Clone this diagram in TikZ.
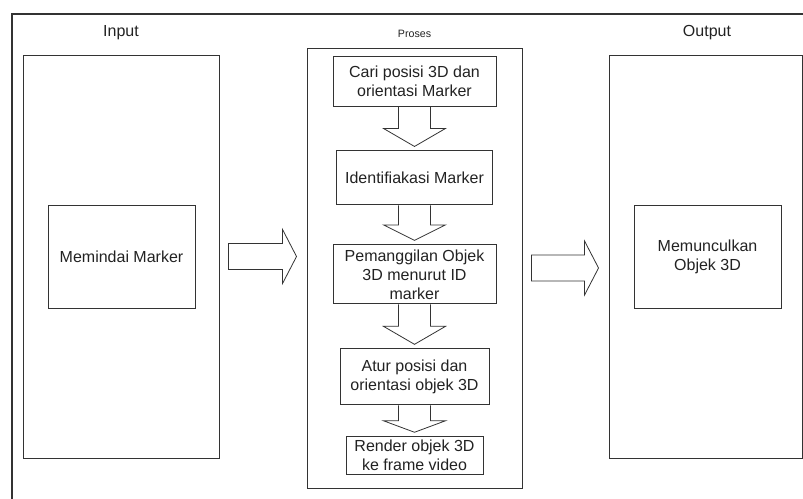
\documentclass[tikz,border=0pt]{standalone}
\usepackage{fontspec}
\setmainfont{Liberation Sans}
\usetikzlibrary{positioning, calc}

\definecolor{linegray}{HTML}{333333}
\definecolor{textgray}{HTML}{222222}

\newcommand{\downblock}[2]{%
  \draw[blockarrow] ($(#1.south)+(-16,0)$)
    -- ($(#1.south)!0.5!(#2.north)+(-16,0)$)
    -- ($(#1.south)!0.5!(#2.north)+(-31,0)$)
    -- ($(#2.north)+(0,-4)$)
    -- ($(#1.south)!0.5!(#2.north)+(31,0)$)
    -- ($(#1.south)!0.5!(#2.north)+(16,0)$)
    -- ($(#1.south)+(16,0)$);}
\newcommand{\rightblock}[2]{%
  \draw[blockarrow] ($(#1.east)+(9,-13)$)
    -- ($(#2.west |- #1.east)+(-24,-13)$)
    -- ($(#2.west |- #1.east)+(-24,-27)$)
    -- ($(#2.west |- #1.east)+(-10,0)$)
    -- ($(#2.west |- #1.east)+(-24,27)$)
    -- ($(#2.west |- #1.east)+(-24,13)$)
    -- ($(#1.east)+(9,13)$) -- cycle;}

\begin{document}
\begin{tikzpicture}[
    x=0.75pt, y=-0.75pt,
    every node/.style={text=textgray, font=\fontsize{12}{14.25}\selectfont},
    panel/.style={rectangle, draw=linegray, line width=0.7pt},
    stage/.style={rectangle, draw=linegray, line width=0.7pt, align=center, inner sep=1pt},
    blockarrow/.style={draw=linegray, line width=0.6pt, line join=miter}
]
\useasboundingbox (0,0) rectangle (803,499);
\draw[linegray, line width=0.8pt] (12,499) -- (12,14) -- (803,14);

% kolom input / output
\node[panel, minimum width=147pt, minimum height=302.25pt] (inbox) at (121,256.5) {};
\node[panel, minimum width=144.75pt, minimum height=302.25pt] (outbox) at (705.5,256.5) {};
\node[panel, minimum width=161.25pt, minimum height=330pt] (procbox) at (414.5,268) {};
\node (inlabel) at (121,33) {Input};
\node (outlabel) at (707,33) {Output};
\node[font=\fontsize{8}{9}\selectfont] (proclabel) at (414.5,33.5) {Proses};

\node[stage, minimum width=110.25pt, minimum height=77.25pt] (scan) at (121.5,256.5) {Memindai Marker};
\node[stage, minimum width=110.25pt, minimum height=77.25pt] (show) at (707.5,256.5) {Memunculkan\\Objek 3D};

% langkah proses
\node[stage, minimum width=122.25pt, minimum height=37.5pt] (cari) at (414.5,81) {Cari posisi 3D dan\\orientasi Marker};
\node[stage, minimum width=117pt, minimum height=40.5pt, below=33pt of cari] (ident) {Identifiakasi Marker};
\node[stage, minimum width=122.25pt, minimum height=44.25pt, below=29.25pt of ident] (panggil) {Pemanggilan Objek\\3D menurut ID\\marker};
\node[stage, minimum width=111.75pt, minimum height=42pt, below=33pt of panggil] (atur) {Atur posisi dan\\orientasi objek 3D};
\node[stage, minimum width=102.75pt, minimum height=28.5pt, below=23.25pt of atur] (render) {Render objek 3D\\ke frame video};

\downblock{cari}{ident}
\downblock{ident}{panggil}
\downblock{panggil}{atur}
\downblock{atur}{render}
\rightblock{inbox}{procbox}
\rightblock{procbox}{outbox}
\end{tikzpicture}
\end{document}
